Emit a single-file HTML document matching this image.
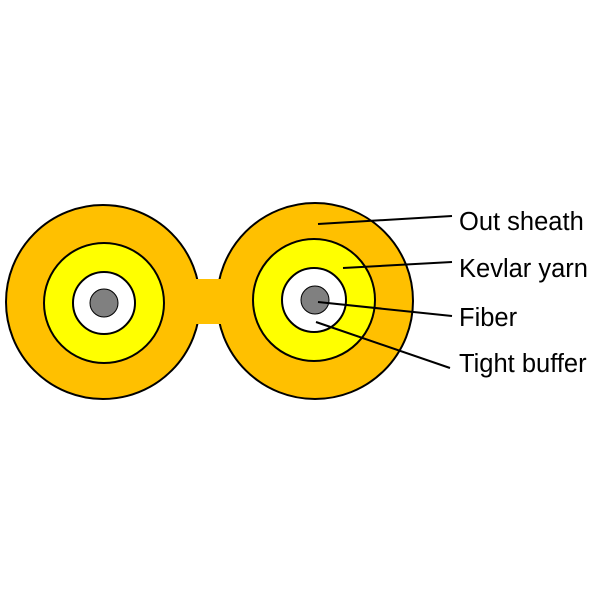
<!DOCTYPE html>
<html><head><style>body{margin:0;background:#fff}svg{display:block}</style></head><body>
<svg width="600" height="600" xmlns="http://www.w3.org/2000/svg">
<g stroke="#000" stroke-width="2">
<circle cx="103" cy="302" r="97" fill="#FFC000"/>
<circle cx="315" cy="301" r="98" fill="#FFC000"/>
<rect x="196" y="279" width="26" height="45" fill="#FFC000" stroke="none"/>
<circle cx="104" cy="303" r="60" fill="#FFFF00"/>
<circle cx="104" cy="303" r="31" fill="#fff"/>
<circle cx="104" cy="303" r="14" fill="#808080" stroke-width="1"/>
<circle cx="314" cy="300" r="61" fill="#FFFF00"/>
<circle cx="314" cy="300" r="32" fill="#fff"/>
<circle cx="315" cy="300" r="14" fill="#808080" stroke-width="1"/>
<line x1="318" y1="224" x2="452" y2="216"/>
<line x1="343" y1="268" x2="452" y2="262"/>
<line x1="318" y1="302" x2="452" y2="316"/>
<line x1="316" y1="322" x2="450" y2="368"/>
</g>
<g font-family="Liberation Sans, sans-serif" font-size="25.5" fill="#000">
<text x="459" y="230">Out sheath</text>
<text x="459" y="277">Kevlar yarn</text>
<text x="459" y="326">Fiber</text>
<text x="459" y="372">Tight buffer</text>
</g>
</svg>
</body></html>
